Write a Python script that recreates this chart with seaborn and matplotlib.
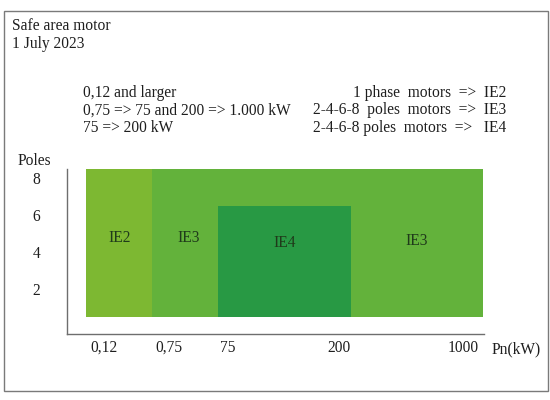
import matplotlib
matplotlib.use("Agg")
import matplotlib.pyplot as plt
import seaborn as sns
from matplotlib.patches import Rectangle

# efficiency zones: (class, power band start/end, pole range)
zone_class = ["IE3", "IE2", "IE4"]
zone_band_start = [1, 0, 2]
zone_band_end = [6, 1, 4]
zone_pole_low = [0.5, 0.5, 0.5]
zone_pole_high = [8.5, 8.5, 6.5]
zone_colors = {"IE2": "#7db832", "IE3": "#63b23b", "IE4": "#289944"}

# labels written inside the zones
area_labels = ["IE2", "IE3", "IE4", "IE3"]
area_band = [0.5, 1.55, 3.0, 5.0]
area_pole = [4.75, 4.75, 4.5, 4.6]

power_labels = ["0,12", "0,75", "75", "200", "1000"]
pole_ticks = [2, 4, 6, 8]

rules_left = ["0,12 and larger", "0,75 => 75 and 200 => 1.000 kW", "75 => 200 kW"]
rules_right = ["1 phase  motors  =>  IE2",
               "2-4-6-8  poles  motors  =>  IE3",
               "2-4-6-8 poles  motors  =>   IE4"]

sns.set_theme(style="white")
plt.rcParams["font.family"] = ["Liberation Serif", "DejaVu Serif"]
FS = 11.2
TXT = "#1e1e1e"

W, H = 550, 400
fig = plt.figure(figsize=(W / 100, H / 100), dpi=100)


def px(x, y):
    return x / W, 1 - y / H


# outer frame
fig.patches.append(Rectangle(px(4, 391), 544 / W, 380 / H, transform=fig.transFigure,
                             fill=False, edgecolor="#7a7a7a", linewidth=1.0))

ax = fig.add_axes([67 / W, 66 / H, 417 / W, 165 / H])
ax.set_facecolor("white")

for c, x0, x1, y0, y1 in zip(zone_class, zone_band_start, zone_band_end, zone_pole_low, zone_pole_high):
    ax.bar(x0, y1 - y0, width=x1 - x0, bottom=y0, align="edge",
           color=zone_colors[c], edgecolor="none", linewidth=0)

for t, x, y in zip(area_labels, area_band, area_pole):
    ax.text(x, y, t, ha="center", va="center", fontsize=FS, color="#1f3a1a")

ax.set_xlim(-0.29, 6.02)
ax.set_ylim(-0.42, 8.5)
ax.set_xticks([0.27, 1.26, 2.15, 3.82, 5.7])
ax.set_xticklabels(power_labels)
ax.set_yticks(pole_ticks)
ax.set_yticklabels([str(p) for p in pole_ticks])
ax.tick_params(axis="x", length=0, pad=4, labelsize=FS, labelcolor=TXT)
ax.tick_params(axis="y", length=0, pad=22, labelsize=FS, labelcolor=TXT)
for lab in ax.get_yticklabels():
    lab.set_horizontalalignment("center")
sns.despine(ax=ax)
for s in ["left", "bottom"]:
    ax.spines[s].set_color("#6e6e6e")
    ax.spines[s].set_linewidth(1.0)

fig.text(*px(34, 161), "Poles", ha="center", va="center", fontsize=FS, color=TXT)
fig.text(*px(516, 349), "Pn(kW)", ha="center", va="center", fontsize=FS, color=TXT)

fig.text(*px(12, 26), "Safe area motor", ha="left", va="center", fontsize=FS, color=TXT)
fig.text(*px(12, 44), "1 July 2023", ha="left", va="center", fontsize=FS, color=TXT)

for i, (l, r) in enumerate(zip(rules_left, rules_right)):
    y = 93 + i * 17.5
    fig.text(*px(83, y), l, ha="left", va="center", fontsize=FS, color=TXT)
    fig.text(*px(506, y), r, ha="right", va="center", fontsize=FS, color=TXT)

fig.savefig("out.png", dpi=100, facecolor="white")
